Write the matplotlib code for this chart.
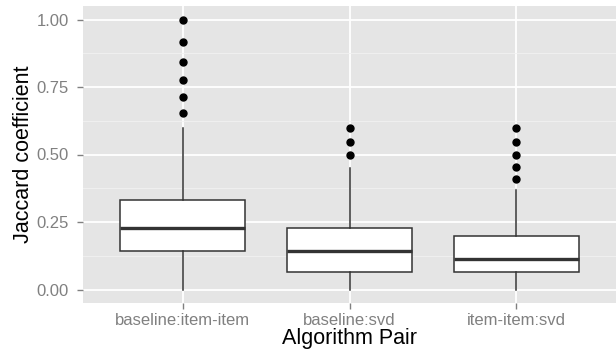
import matplotlib
matplotlib.use("Agg")
import matplotlib.pyplot as plt

# ── Data ────────────────────────────────────────────────────────────────────
pairs = ["baseline:item-item", "baseline:svd", "item-item:svd"]
whisker_lo = [0.0, 0.0, 0.0]
q1 = [0.141, 0.065, 0.065]
median = [0.228, 0.141, 0.114]
q3 = [0.332, 0.228, 0.197]
whisker_hi = [0.600, 0.450, 0.370]
outliers = [
    [1.000, 0.918, 0.844, 0.777, 0.712, 0.653],
    [0.600, 0.546, 0.500],
    [0.600, 0.546, 0.500, 0.453, 0.410],
]
y_ticks = [0.0, 0.25, 0.50, 0.75, 1.00]
y_tick_labels = ["0.00", "0.25", "0.50", "0.75", "1.00"]

plt.rcParams["font.family"] = ["Liberation Sans", "DejaVu Sans"]

fig = plt.figure(figsize=(6.16, 3.56), dpi=100)
ax = fig.add_axes([83 / 616, 53 / 356, 533 / 616, 297 / 356])
ax.set_facecolor("#E5E5E5")

stats = []
for i, name in enumerate(pairs):
    stats.append({
        "label": name, "whislo": whisker_lo[i], "q1": q1[i], "med": median[i],
        "q3": q3[i], "whishi": whisker_hi[i], "fliers": outliers[i],
    })

positions = list(range(1, len(pairs) + 1))
ax.bxp(
    stats, positions=positions, widths=0.75, patch_artist=True,
    showcaps=False, zorder=3,
    boxprops=dict(facecolor="white", edgecolor="#333333", linewidth=1.1),
    whiskerprops=dict(color="#333333", linewidth=1.1),
    medianprops=dict(color="#333333", linewidth=2.4),
    flierprops=dict(marker="o", markerfacecolor="black", markeredgecolor="black",
                    markersize=5, linestyle="none"),
)

# ggplot-style grid
ax.set_ylim(-0.05, 1.05)
ax.set_xlim(0.4, 3.6)
ax.set_yticks(y_ticks)
ax.set_yticklabels(y_tick_labels)
ax.set_yticks([0.125, 0.375, 0.625, 0.875], minor=True)
ax.set_xticks(positions)
ax.set_xticklabels(pairs)
ax.grid(True, which="major", color="white", linewidth=1.3, zorder=0)
ax.grid(True, which="minor", axis="y", color="#F2F2F2", linewidth=0.6, zorder=0)
ax.set_axisbelow(True)
for s in ax.spines.values():
    s.set_visible(False)

ax.tick_params(axis="both", which="major", colors="#808080", labelcolor="#808080",
               length=4.5, width=1, labelsize=12)
ax.tick_params(axis="y", which="major", pad=5.5)
ax.tick_params(axis="x", which="major", pad=3)
ax.tick_params(axis="y", which="minor", length=0)

ax.set_xlabel("Algorithm Pair", fontsize=15.5, color="black", labelpad=0)
ax.set_ylabel("Jaccard coefficient", fontsize=15.5, color="black", labelpad=2)

fig.savefig("out.png", dpi=100)
